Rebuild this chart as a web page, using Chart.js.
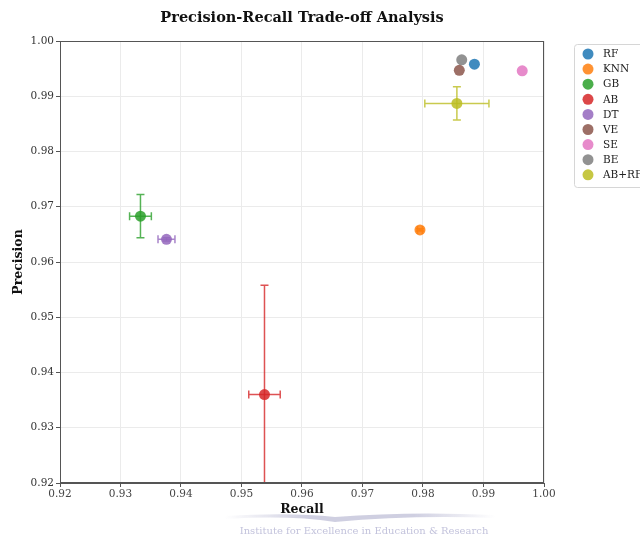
<!DOCTYPE html>
<html>
<head>
<meta charset="utf-8">
<script src="https://cdn.jsdelivr.net/npm/chart.js@4/dist/chart.umd.min.js"></script>
<style>
  html, body { margin: 0; padding: 0; background: #ffffff; }
  #wrap { width: 640px; height: 542px; }
</style>
</head>
<body>
<div id="wrap"><canvas id="c" width="640" height="542"></canvas></div>
<script>
// Model names and their mean recall / precision with spread
const models = ['RF', 'KNN', 'GB', 'AB', 'DT', 'VE', 'SE', 'BE', 'AB+RF'];
const recall = [0.9885, 0.9795, 0.9333, 0.9538, 0.9376, 0.9860, 0.9964, 0.9864, 0.9856];
const precision = [0.9958, 0.9658, 0.9683, 0.9360, 0.9641, 0.9947, 0.9946, 0.9966, 0.9887];
const recallErr = [0, 0.0004, 0.0018, 0.0026, 0.0014, 0, 0, 0, 0.0053];
const precisionErr = [0, 0.0002, 0.0039, 0.0198, 0.0003, 0, 0, 0, 0.0030];
const colors = ['#1f77b4', '#ff7f0e', '#2ca02c', '#d62728', '#9467bd', '#8c564b', '#e377c2', '#7f7f7f', '#bcbd22'];
const axisTicks = [0.92, 0.93, 0.94, 0.95, 0.96, 0.97, 0.98, 0.99, 1.00];

const SERIF = '"DejaVu Serif", "Liberation Serif", serif';

function alpha(hex, a) {
  const n = parseInt(hex.slice(1), 16);
  return `rgba(${(n >> 16) & 255},${(n >> 8) & 255},${n & 255},${a})`;
}

const datasets = models.map((m, i) => ({
  label: m,
  data: [{ x: recall[i], y: precision[i] }],
  backgroundColor: alpha(colors[i], 0.85),
  borderColor: alpha(colors[i], 0.85),
  borderWidth: 0,
  pointRadius: 5.5,
  pointHoverRadius: 5.5
}));

// Error bars, frame, titles, legend and footer text
const decorations = {
  id: 'decorations',
  beforeDatasetsDraw(chart) {
    const { ctx, chartArea: a, scales: { x, y } } = chart;
    ctx.save();
    ctx.beginPath();
    ctx.rect(a.left, a.top, a.right - a.left, a.bottom - a.top);
    ctx.clip();
    ctx.lineWidth = 1.5;
    models.forEach((m, i) => {
      const cx = x.getPixelForValue(recall[i]);
      const cy = y.getPixelForValue(precision[i]);
      ctx.strokeStyle = alpha(colors[i], 0.8);
      const cap = 4;
      if (recallErr[i] > 0) {
        const x0 = x.getPixelForValue(recall[i] - recallErr[i]);
        const x1 = x.getPixelForValue(recall[i] + recallErr[i]);
        ctx.beginPath();
        ctx.moveTo(x0, cy); ctx.lineTo(x1, cy);
        ctx.moveTo(x0, cy - cap); ctx.lineTo(x0, cy + cap);
        ctx.moveTo(x1, cy - cap); ctx.lineTo(x1, cy + cap);
        ctx.stroke();
      }
      if (precisionErr[i] > 0) {
        const y0 = y.getPixelForValue(precision[i] - precisionErr[i]);
        const y1 = y.getPixelForValue(precision[i] + precisionErr[i]);
        ctx.beginPath();
        ctx.moveTo(cx, y0); ctx.lineTo(cx, y1);
        ctx.moveTo(cx - cap, y0); ctx.lineTo(cx + cap, y0);
        ctx.moveTo(cx - cap, y1); ctx.lineTo(cx + cap, y1);
        ctx.stroke();
      }
    });
    ctx.restore();
  },
  afterDraw(chart) {
    const { ctx, chartArea: a } = chart;
    ctx.save();
    // plot frame
    ctx.strokeStyle = '#555555';
    ctx.lineWidth = 1;
    ctx.strokeRect(a.left + 0.5, a.top + 0.5, a.right - a.left - 1, a.bottom - a.top - 1);

    // title
    ctx.fillStyle = '#111111';
    ctx.textAlign = 'center';
    ctx.textBaseline = 'middle';
    ctx.font = `bold 14.5px ${SERIF}`;
    ctx.fillText('Precision-Recall Trade-off Analysis', (a.left + a.right) / 2, 18);

    // axis titles
    ctx.font = `bold 12.5px ${SERIF}`;
    ctx.fillText('Recall', (a.left + a.right) / 2, 510);
    ctx.save();
    ctx.translate(19, (a.top + a.bottom) / 2);
    ctx.rotate(-Math.PI / 2);
    ctx.fillText('Precision', 0, 0);
    ctx.restore();

    // legend
    const lx = 574, ly = 44, lh = 143;
    ctx.fillStyle = 'rgba(255,255,255,0.9)';
    ctx.strokeStyle = '#d6d6d6';
    ctx.lineWidth = 1;
    ctx.beginPath();
    ctx.roundRect(lx + 0.5, ly + 0.5, 90, lh, 3);
    ctx.fill();
    ctx.stroke();
    ctx.font = `10.5px ${SERIF}`;
    ctx.textAlign = 'left';
    models.forEach((m, i) => {
      const yy = 54 + i * 15.1;
      ctx.fillStyle = alpha(colors[i], 0.85);
      ctx.beginPath();
      ctx.arc(588, yy, 5.5, 0, Math.PI * 2);
      ctx.fill();
      ctx.fillStyle = '#222222';
      ctx.fillText(m, 603, yy + 0.5);
    });

    // footer band and institute line
    const g = ctx.createLinearGradient(225, 0, 495, 0);
    g.addColorStop(0, 'rgba(175,175,205,0.0)');
    g.addColorStop(0.3, 'rgba(175,175,205,0.6)');
    g.addColorStop(0.7, 'rgba(175,175,205,0.6)');
    g.addColorStop(1, 'rgba(175,175,205,0.0)');
    ctx.fillStyle = g;
    ctx.beginPath();
    ctx.moveTo(225, 516);
    ctx.quadraticCurveTo(290, 512, 335, 517);
    ctx.quadraticCurveTo(410, 511, 495, 515);
    ctx.lineTo(495, 518);
    ctx.quadraticCurveTo(410, 515, 335, 522);
    ctx.quadraticCurveTo(290, 515, 225, 519);
    ctx.closePath();
    ctx.fill();
    ctx.fillStyle = '#c3c3dc';
    ctx.textAlign = 'center';
    ctx.font = `10px ${SERIF}`;
    ctx.fillText('Institute for Excellence in Education & Research', 364, 531);
    ctx.restore();
  }
};

new Chart(document.getElementById('c'), {
  type: 'scatter',
  data: { datasets },
  options: {
    responsive: false,
    animation: false,
    events: [],
    layout: { padding: { left: 0, right: 96, top: 41, bottom: 0 } },
    plugins: { legend: { display: false }, title: { display: false }, tooltip: { enabled: false } },
    scales: {
      x: {
        type: 'linear',
        min: 0.92, max: 1.00,
        afterFit(s) { s.height = 59; },
        afterBuildTicks(s) { s.ticks = axisTicks.map(v => ({ value: v })); },
        ticks: {
          font: { family: SERIF, size: 10.5 },
          color: '#444444',
          padding: 1,
          maxRotation: 0,
          callback: v => v.toFixed(2)
        },
        grid: { color: '#ebebeb', tickColor: '#555555', tickLength: 4 },
        border: { color: '#555555' }
      },
      y: {
        type: 'linear',
        min: 0.92, max: 1.00,
        afterFit(s) { s.width = 60; },
        afterBuildTicks(s) { s.ticks = axisTicks.map(v => ({ value: v })); },
        ticks: {
          font: { family: SERIF, size: 10.5 },
          color: '#333333',
          padding: 2,
          callback: v => v.toFixed(2)
        },
        grid: { color: '#ebebeb', tickColor: '#555555', tickLength: 4 },
        border: { color: '#555555' }
      }
    }
  },
  plugins: [decorations]
});
</script>
</body>
</html>
